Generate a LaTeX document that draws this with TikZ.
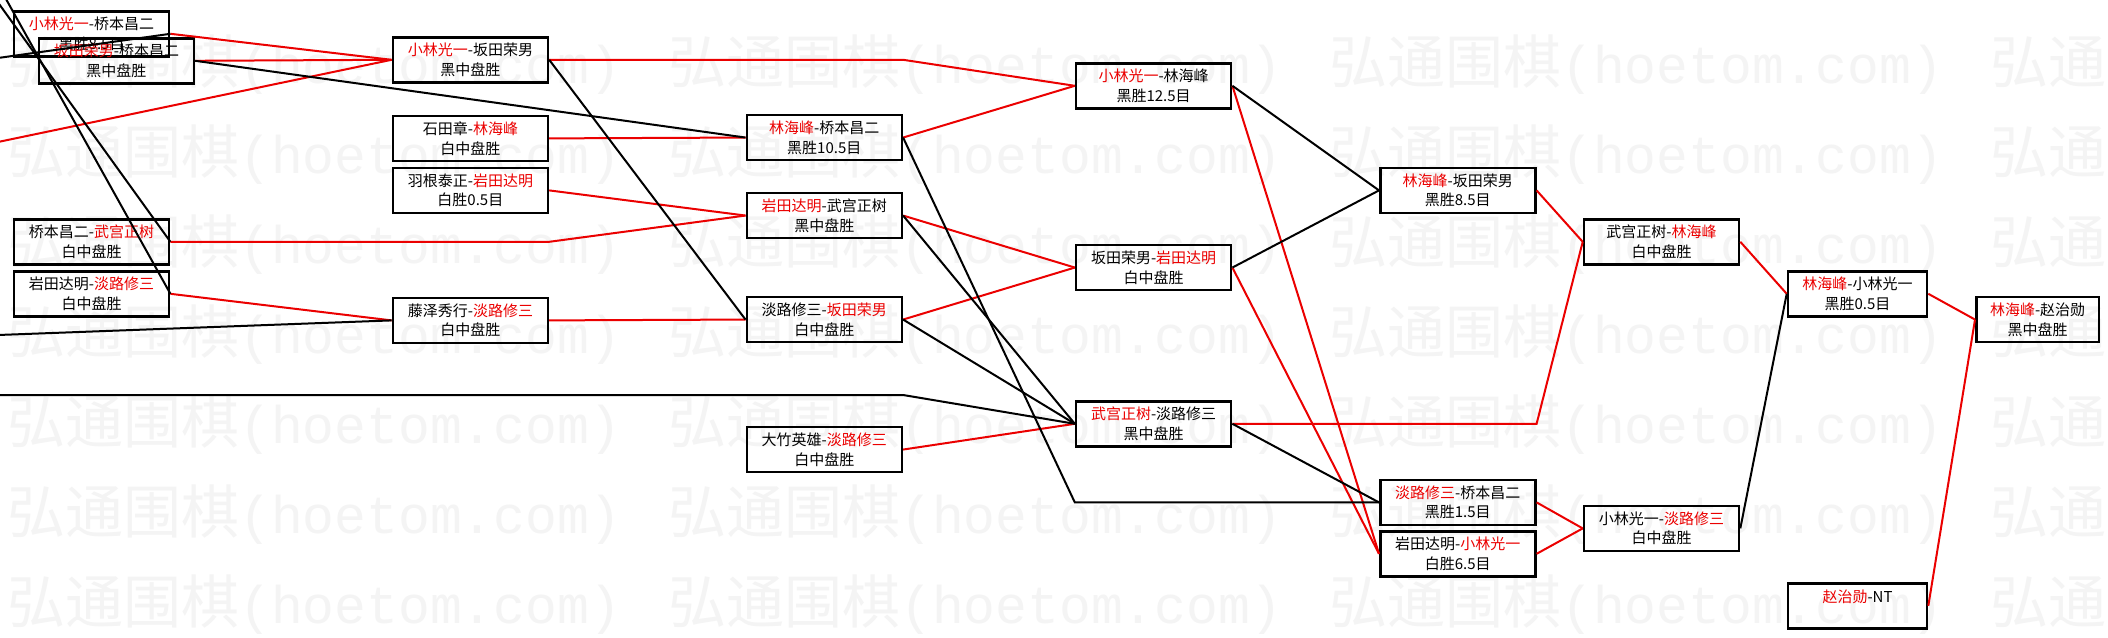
\documentclass[tikz,border=0pt]{standalone}
\usepackage{fontspec}
\setmainfont{Noto Sans CJK SC}
\newfontfamily\wmmono{Liberation Mono}
\definecolor{mred}{RGB}{235,0,0}
\definecolor{wmgray}{RGB}{244,244,244}
\newcommand\rn[1]{\textcolor{mred}{#1}}
\tikzset{
  box/.style={draw=black, line width=2.6pt, minimum width=155pt, minimum height=45pt,
    inner sep=0pt, align=center, anchor=north west, font=\fontsize{15}{19.6}\selectfont},
  boxs/.style={box, minimum width=139pt},
  boxt/.style={box, minimum width=122.6pt},
  wm/.style={anchor=west, inner sep=0pt, text=wmgray, font=\fontsize{58}{58}\selectfont},
  rl/.style={draw=mred, line width=2pt},
  bl/.style={draw=black, line width=2pt}
}
\begin{document}
\begin{tikzpicture}[x=1pt,y=-1pt]
\useasboundingbox (0,0) rectangle (2108,637);
\fill[white] (0,0) rectangle (2108,637);
\begin{scope}
\clip (0,0) rectangle (2108,637);
% watermark
\foreach \r in {0,...,6} {
  \foreach \c in {-1,0,1,2,3} {
    \node[wm] (wm-\r-\c) at ({7+661*\c},{65+90*\r}) {弘通围棋{\wmmono\fontsize{53}{53}\selectfont(hoetom.com)}};
  }
}
% boxes
\node[box] (bA) at (12.8,10) {\rn{小林光一}-桥本昌二\\黑胜8.5目};
\node[box] (bB) at (37.6,37) {\rn{坂田荣男}-桥本昌二\\黑中盘胜};
\node[box] (c1a) at (12.8,218) {桥本昌二-\rn{武宫正树}\\白中盘胜};
\node[box] (c1b) at (12.8,270) {岩田达明-\rn{淡路修三}\\白中盘胜};
\node[box] (c2a) at (391.6,36) {\rn{小林光一}-坂田荣男\\黑中盘胜};
\node[box] (c2b) at (391.6,114.6) {石田章-\rn{林海峰}\\白中盘胜};
\node[box] (c2c) at (391.6,166.6) {羽根泰正-\rn{岩田达明}\\白胜0.5目};
\node[box] (c2d) at (391.6,296.6) {藤泽秀行-\rn{淡路修三}\\白中盘胜};
\node[box] (c3a) at (745.5,113.75) {\rn{林海峰}-桥本昌二\\黑胜10.5目};
\node[box] (c3b) at (745.5,191.75) {\rn{岩田达明}-武宫正树\\黑中盘胜};
\node[box] (c3c) at (745.5,295.75) {淡路修三-\rn{坂田荣男}\\白中盘胜};
\node[box] (c3d) at (745.5,425.75) {大竹英雄-\rn{淡路修三}\\白中盘胜};
\node[box] (c4a) at (1074.8,62) {\rn{小林光一}-林海峰\\黑胜12.5目};
\node[box] (c4b) at (1074.8,243.75) {坂田荣男-\rn{岩田达明}\\白中盘胜};
\node[box] (c4c) at (1074.8,400) {\rn{武宫正树}-淡路修三\\黑中盘胜};
\node[box] (c5a) at (1379,166.6) {\rn{林海峰}-坂田荣男\\黑胜8.5目};
\node[box] (c5b) at (1379,478.6) {\rn{淡路修三}-桥本昌二\\黑胜1.5目};
\node[box] (c5c) at (1379,530) {岩田达明-\rn{小林光一}\\白胜6.5目};
\node[box] (c6a) at (1582.7,218) {武宫正树-\rn{林海峰}\\白中盘胜};
\node[box] (c6b) at (1582.7,504.6) {小林光一-\rn{淡路修三}\\白中盘胜};
\node[boxs] (c7a) at (1786.7,270) {\rn{林海峰}-小林光一\\黑胜0.5目};
\node[boxs] (c7b) at (1786.7,582) {\rn{赵治勋}-NT\\\mbox{}};
\node[boxt] (c8) at (1975,295.75) {\rn{林海峰}-赵治勋\\黑中盘胜};
% free ends
\coordinate (L1) at (-2,142);
\coordinate (L2) at (-2,58);
\coordinate (T1) at (-4.5,-1);
\coordinate (T2) at (6,-1);
\coordinate (L3) at (-2,335);
\coordinate (L4) at (-2,395);
% red connectors
\draw[rl] (L1) -- (c2a.west);
\draw[rl] (bA.east) -- (c2a.west);
\draw[rl] (bB.east) -- (c2a.west);
\draw[rl] (c1a.east) -- (c1a.east -| c2a.east) -- (c3b.west);
\draw[rl] (c1b.east) -- (c2d.west);
\draw[rl] (c2a.east) -- (c2a.east -| c3a.east) -- (c4a.west);
\draw[rl] (c2b.east) -- (c3a.west);
\draw[rl] (c2c.east) -- (c3b.west);
\draw[rl] (c2d.east) -- (c3c.west);
\draw[rl] (c3a.east) -- (c4a.west);
\draw[rl] (c3b.east) -- (c4b.west);
\draw[rl] (c3c.east) -- (c4b.west);
\draw[rl] (c3d.east) -- (c4c.west);
\draw[rl] (c4a.east) -- (c5c.west);
\draw[rl] (c4b.east) -- (c5c.west);
\draw[rl] (c4c.east) -- (c4c.east -| c5a.east) -- (c6a.west);
\draw[rl] (c5a.east) -- (c6a.west);
\draw[rl] (c5b.east) -- (c6b.west);
\draw[rl] (c5c.east) -- (c6b.west);
\draw[rl] (c6a.east) -- (c7a.west);
\draw[rl] (c7a.east) -- (c8.west);
\draw[rl] (c7b.east) -- (c8.west);
% black connectors
\draw[bl] (L2) -- (bA.east);
\draw[bl] (T1) -- (c1a.east);
\draw[bl] (T2) -- (c1b.east);
\draw[bl] (L3) -- (c2d.west);
\draw[bl] (bB.east) -- (c3a.west);
\draw[bl] (c2a.east) -- (c3c.west);
\draw[bl] (L4) -- (L4 -| c3a.east) -- (c4c.west);
\draw[bl] (c3a.east) -- (c5b.west -| c4a.west) -- (c5b.west);
\draw[bl] (c3b.east) -- (c4c.west);
\draw[bl] (c3c.east) -- (c4c.west);
\draw[bl] (c4a.east) -- (c5a.west);
\draw[bl] (c4b.east) -- (c5a.west);
\draw[bl] (c4c.east) -- (c5b.west);
\draw[bl] (c6b.east) -- (c7a.west);
\end{scope}
\end{tikzpicture}
\end{document}
